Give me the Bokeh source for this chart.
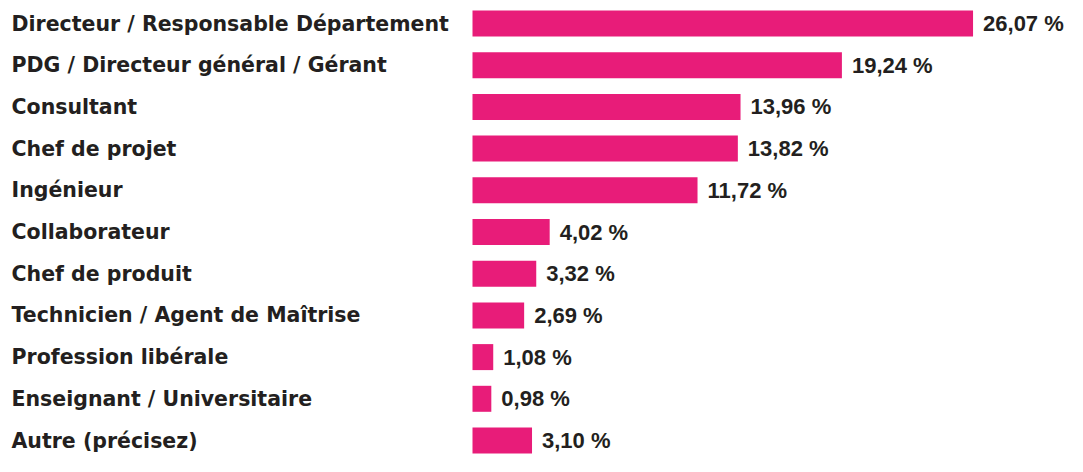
from bokeh.plotting import figure
from bokeh.models import ColumnDataSource, Range1d
from bokeh.core.properties import value
from bokeh.embed import file_html
from bokeh.resources import INLINE

categories = [
    "Directeur / Responsable Département",
    "PDG / Directeur général / Gérant",
    "Consultant",
    "Chef de projet",
    "Ingénieur",
    "Collaborateur",
    "Chef de produit",
    "Technicien / Agent de Maîtrise",
    "Profession libérale",
    "Enseignant / Universitaire",
    "Autre (précisez)",
]
values = [26.07, 19.24, 13.96, 13.82, 11.72, 4.02, 3.32, 2.69, 1.08, 0.98, 3.10]

positions = list(range(len(categories)))
value_labels = [f"{v:.2f}".replace(".", ",") + " %" for v in values]

BAR_COLOR = "#E81C79"
TEXT_COLOR = "#231F20"

W, H = 1067, 456
px_per_pct = 19.2
bar_left_px = 472
x0 = -bar_left_px / px_per_pct
x1 = (W - bar_left_px) / px_per_pct
row_px = 41.7
top_px = 23
y_top = -top_px / row_px
y_bottom = y_top + H / row_px

source = ColumnDataSource(dict(pos=positions, cat=categories, val=values, vlabel=value_labels))

p = figure(width=W, height=H, x_range=Range1d(x0, x1), y_range=Range1d(y_bottom, y_top),
           output_backend="svg", toolbar_location=None, min_border=0,
           x_axis_location=None, y_axis_location=None)
p.grid.visible = False
p.outline_line_color = None
p.background_fill_color = "white"
p.border_fill_color = "white"

p.hbar(y="pos", left=0, right="val", height=26 / row_px, source=source,
       fill_color=BAR_COLOR, line_color=None)

p.text(x=x0, y="pos", text="cat", source=source, x_offset=11, y_offset=0,
       text_baseline="alphabetic", text_align="left",
       text_font=value("DejaVu Sans"), text_font_style="bold",
       text_font_size="20.5px", text_color=TEXT_COLOR)

p.text(x="val", y="pos", text="vlabel", source=source, x_offset=10, y_offset=0,
       text_baseline="alphabetic", text_align="left",
       text_font=value("Liberation Sans"), text_font_style="bold",
       text_font_size="22px", text_color=TEXT_COLOR)

open("out.html", "w").write(file_html(p, INLINE))
